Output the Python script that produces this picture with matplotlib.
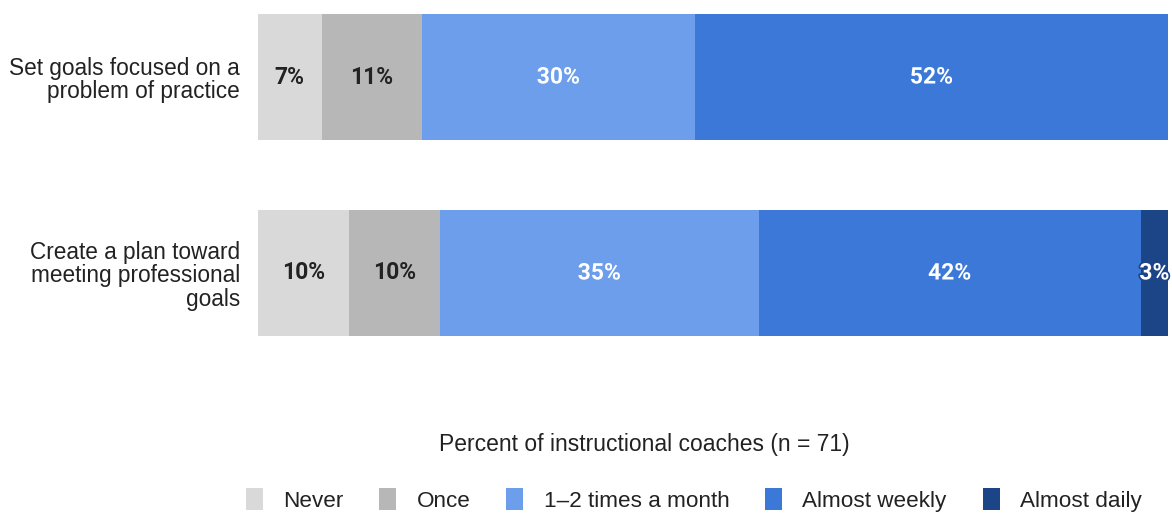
import matplotlib.pyplot as plt
import matplotlib.patheffects as pe
import numpy as np

plt.rcParams['font.family'] = ['Liberation Sans', 'DejaVu Sans']

categories = ["Set goals focused on a\nproblem of practice",
              "Create a plan toward\nmeeting professional\ngoals"]
series = ["Never", "Once", "1\u20132 times a month", "Almost weekly", "Almost daily"]
values = {
    "Never": [7, 10],
    "Once": [11, 10],
    "1\u20132 times a month": [30, 35],
    "Almost weekly": [52, 42],
    "Almost daily": [0, 3],
}
colors = ["#d9d9d9", "#b7b7b7", "#6d9eeb", "#3c78d8", "#1c4587"]
text_colors = ["#222222", "#222222", "white", "white", "white"]

fig = plt.figure(figsize=(11.72, 5.14), dpi=100)
ax = fig.add_axes([258 / 1172, 1 - 336 / 514, 910 / 1172, 322 / 514])

y = np.arange(len(categories))
h = 0.643
left = np.zeros(len(categories))
for s, c, tc in zip(series, colors, text_colors):
    v = np.array(values[s], dtype=float)
    ax.barh(y, v, left=left, height=h, color=c, label=s, edgecolor='none')
    for i in range(len(categories)):
        if v[i] > 0:
            t = ax.text(left[i] + v[i] / 2, y[i], f"{int(v[i])}%", ha='center', va='center',
                        fontsize=16.5, fontweight='bold', color=tc,
                        family=['Roboto', 'DejaVu Sans'])
            if tc == 'white':
                t.set_path_effects([pe.withStroke(linewidth=2.5, foreground=c)])
    left += v

ax.set_xlim(0, 100)
ax.set_ylim(len(categories) - 1 + h / 2, -h / 2)
ax.set_yticks(y)
ax.set_yticklabels(categories, fontsize=16.3, color='#222222', linespacing=1.05)
ax.tick_params(axis='y', length=0, pad=13)
ax.set_xticks([])
for sp in ax.spines.values():
    sp.set_visible(False)

fig.text(0.550, 1 - 445 / 514, "Percent of instructional coaches (n = 71)",
         ha='center', va='center', fontsize=16.5, color='#222222')

fig.legend(loc='center', bbox_to_anchor=(0.592, 1 - 500 / 514), ncol=5, frameon=False,
           fontsize=16.2, handlelength=0.75, handleheight=1.1, handletextpad=0.9,
           columnspacing=1.6, labelcolor='#222222')

fig.savefig("out.png", dpi=100)
